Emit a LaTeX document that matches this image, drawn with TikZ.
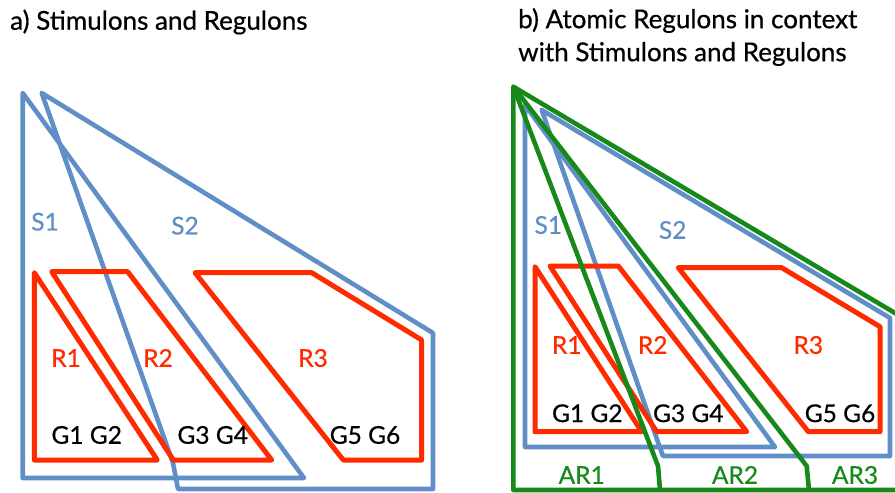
\documentclass[tikz,border=0pt]{standalone}
\usepackage{fontspec}
\setmainfont{Lato}[FakeBold=0.6]
\definecolor{sblue}{HTML}{5F8FC6}
\definecolor{rred}{HTML}{FF2A00}
\definecolor{agreen}{HTML}{17891A}
\begin{document}
\begin{tikzpicture}[x=1pt,y=-1pt,
  stim/.style={draw=sblue,line width=4.6pt,line join=round},
  reg/.style={draw=rred,line width=5pt,line join=round},
  atom/.style={draw=agreen,line width=4.6pt,line join=round},
  lab/.style={font=\fontsize{24.5}{28}\selectfont,inner sep=0pt},
  slab/.style={lab,text=sblue},
  rlab/.style={lab,text=rred},
  alab/.style={lab,text=agreen},
  glab/.style={lab,text=black},
  ttl/.style={font=\fontsize{26}{33}\selectfont,inner sep=0pt,anchor=west,align=left}]
\useasboundingbox (0,0) rectangle (895,493);
% titles
\node[ttl] (ta) at (10,22) {a) Stimulons and Regulons};
\node[ttl] (tb) at (518,37) {b) Atomic Regulons in context\\with Stimulons and Regulons};
% ---------- panel a ----------
\draw[stim] (22.7,93) -- (22.7,478) -- (304,478) -- cycle;
\draw[stim] (41.7,93) -- (173,463) -- (178,489) -- (433,489) -- (433,333) -- cycle;
\draw[reg] (34.3,272.7) -- (34.3,460) -- (157.3,460) -- cycle;
\draw[reg] (51.7,271.7) -- (127.7,271.7) -- (271.7,460) -- (173.3,460) -- cycle;
\draw[reg] (195,272.7) -- (311.7,272.7) -- (421.7,340) -- (421.7,460) -- (343.3,460) -- cycle;
\node[slab] (aS1) at (45,221.7) {S1};
\node[slab] (aS2) at (185,225.7) {S2};
\node[rlab] (aR1) at (66,358) {R1};
\node[rlab] (aR2) at (158,358) {R2};
\node[rlab] (aR3) at (313,358) {R3};
\node[glab] (aG12) at (86.7,435) {G1 G2};
\node[glab] (aG34) at (212.7,435) {G3 G4};
\node[glab] (aG56) at (365,435) {G5 G6};
% ---------- panel b ----------
\draw[stim] (525,105) -- (525,447) -- (775,447) -- cycle;
\draw[stim] (541.7,110) -- (659,445) -- (663,456) -- (890,456) -- (890,318) -- cycle;
\draw[reg] (535,266.7) -- (535,431.7) -- (641.7,431.7) -- cycle;
\draw[reg] (550,266) -- (618.3,266) -- (746.7,431.7) -- (656.7,431.7) -- cycle;
\draw[reg] (678.3,267.7) -- (781.7,267.7) -- (880,326.7) -- (880,431.7) -- (808.3,431.7) -- cycle;
\coordinate (apex) at (513.3,86.7);
\begin{scope}
\clip (0,0) rectangle (895,493);
\draw[atom] (900,316) -- (apex) -- (513.3,490) -- (900,490);
\draw[atom] (apex) -- (658,466) -- (660,490);
\draw[atom] (apex) -- (806.7,466) -- (809,490);
\end{scope}
\node[slab] (bS1) at (548.3,225) {S1};
\node[slab] (bS2) at (672.7,230) {S2};
\node[rlab] (bR1) at (566.7,345) {R1};
\node[rlab] (bR2) at (652.7,345) {R2};
\node[rlab] (bR3) at (808.3,345) {R3};
\node[glab] (bG12) at (587.3,413.3) {G1 G2};
\node[glab] (bG34) at (688.3,413.3) {G3 G4};
\node[glab] (bG56) at (840,413.3) {G5 G6};
\node[alab] (bAR1) at (581.7,475) {AR1};
\node[alab] (bAR2) at (735,475) {AR2};
\node[alab] (bAR3) at (855,475) {AR3};
\end{tikzpicture}
\end{document}
